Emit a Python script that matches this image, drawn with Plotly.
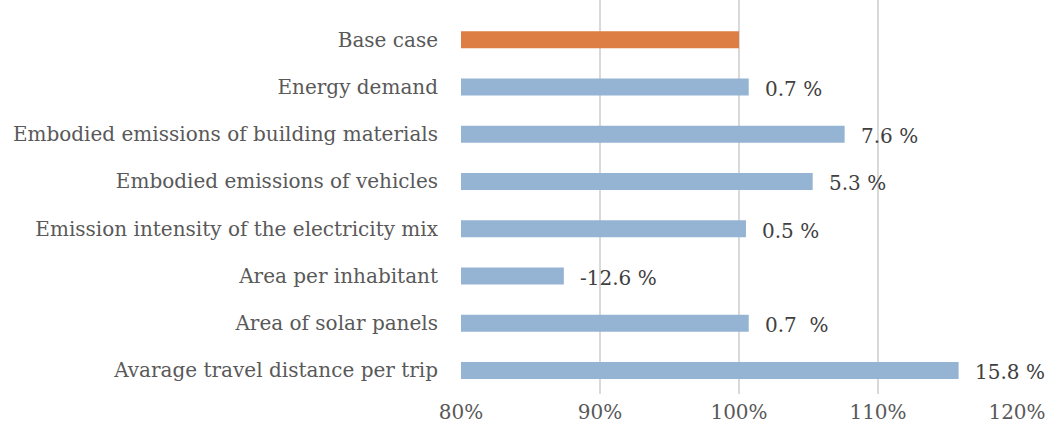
import plotly.graph_objects as go

categories = ["Base case", "Energy demand", "Embodied emissions of building materials",
              "Embodied emissions of vehicles", "Emission intensity of the electricity mix",
              "Area per inhabitant", "Area of solar panels", "Avarage travel distance per trip"]
values = [100.0, 100.7, 107.6, 105.3, 100.5, 87.4, 100.7, 115.8]
labels = ["", "0.7 %", "7.6 %", "5.3 %", "0.5 %", "-12.6 %", "0.7  %", "15.8 %"]
colors = ["#dd7f45"] + ["#95b3d3"] * 7
base = 80
tick_vals = [80, 90, 100, 110, 120]
tick_text = ["80%", "90%", "100%", "110%", "120%"]

font_family = "DejaVu Serif"

fig = go.Figure()
fig.add_trace(go.Bar(
    y=categories, x=[v - base for v in values], base=base, orientation="h",
    marker=dict(color=colors, line=dict(width=0)), width=0.36,
    hoverinfo="skip"))

for c, v, t in zip(categories, values, labels):
    if t:
        fig.add_annotation(x=v, y=c, text=t.replace("  ", "&nbsp; "), showarrow=False,
                           xanchor="left", xshift=14, yshift=-2,
                           font=dict(family=font_family, size=20, color="#404040"))

fig.update_layout(
    width=1051, height=434,
    margin=dict(l=461, r=34, t=0, b=40),
    plot_bgcolor="white", paper_bgcolor="white",
    showlegend=False,
    xaxis=dict(range=[80, 120], tickvals=tick_vals, ticktext=tick_text,
               showgrid=True, gridcolor="#d9d9d9", gridwidth=2, zeroline=False,
               showline=False, ticks="", ticklabelstandoff=4,
               tickfont=dict(family=font_family, size=20, color="#595959")),
    yaxis=dict(categoryorder="array", categoryarray=categories,
               range=[7.5, -0.84], showgrid=False, zeroline=False,
               showline=False, ticks="", ticklabelstandoff=22,
               tickfont=dict(family=font_family, size=20, color="#595959")),
    font=dict(family=font_family),
)
fig.write_html("out.html", config={"displayModeBar": False},
               post_script="document.body.style.margin='0';")
